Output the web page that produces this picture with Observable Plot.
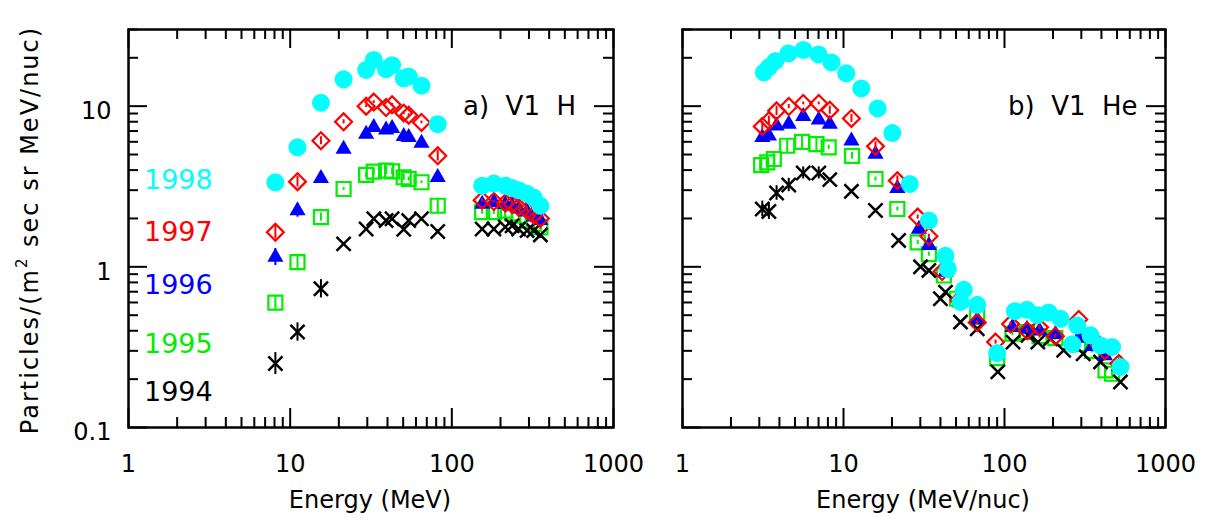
<!DOCTYPE html>
<html><head><meta charset="utf-8">
<script src="https://cdn.jsdelivr.net/npm/d3@7"></script>
<script src="https://cdn.jsdelivr.net/npm/@observablehq/plot@0.6"></script>
<style>
body{margin:0;background:#fff;font-family:"DejaVu Sans",sans-serif;}
#wrap{position:relative;width:1211px;height:527px;overflow:hidden;background:#fff;}
#wrap svg{position:absolute;top:0;}
.t{position:absolute;white-space:pre;line-height:1;color:#000;}
</style></head><body><div id="wrap"></div>
<script>
// ---------- data ----------
const years = ["1994", "1995", "1996", "1997", "1998"];
const colors = {"1994": "#000000", "1995": "#00ee00", "1996": "#0000ff", "1997": "#ff0000", "1998": "#00ffff"};

// Panel a) V1 H : energies (MeV)
const hEnergy = [8.1, 11.1, 15.5, 21.4, 29.5, 32.9, 39.2, 42.7, 50.4, 54.1, 64.9, 81.8,
                 154, 182, 214, 236, 259, 292, 321, 353];
const h1998 = [3.36, 5.54, 10.5, 14.7, 16.8, 19.4, 17.0, 18.0, 14.9, 15.3, 13.4, 7.73,
               3.2, 3.3, 3.2, 3.1, 3.0, 2.85, 2.7, 2.4];
const h1997 = [1.64, 3.39, 6.09, 7.99, 10.0, 10.6, 9.8, 10.2, 9.05, 8.79, 7.92, 4.91,
               2.6, 2.55, 2.5, 2.45, 2.35, 2.25, 2.1, 2.0];
const h1996 = [1.15, 2.24, 3.56, 5.41, 6.70, 7.37, 7.13, 7.27, 6.48, 6.39, 5.89, 3.61,
               2.46, 2.52, 2.45, 2.40, 2.30, 2.20, 2.05, 1.95];
const h1995 = [0.598, 1.07, 2.04, 3.05, 3.73, 3.91, 3.97, 3.93, 3.61, 3.52, 3.36, 2.40,
               2.19, 2.19, 2.24, 2.15, 2.08, 1.94, 1.85, 1.76];
const h1994 = [0.250, 0.393, 0.730, 1.39, 1.72, 1.99, 1.94, 1.99, 1.71, 1.94, 1.99, 1.66,
               1.72, 1.72, 1.77, 1.80, 1.72, 1.68, 1.68, 1.58];
// relative uncertainties
const hErr1998 = [0.05, 0.04, 0.03, 0.02, 0.02, 0.02, 0.02, 0.02, 0.02, 0.02, 0.02, 0.04, 0.02, 0.02, 0.02, 0.02, 0.02, 0.02, 0.02, 0.02];
const hErr1997 = [0.10, 0.08, 0.06, 0.03, 0.02, 0.02, 0.02, 0.02, 0.02, 0.02, 0.02, 0.08, 0.02, 0.02, 0.02, 0.02, 0.02, 0.02, 0.02, 0.02];
const hErr1996 = [0.13, 0.10, 0.06, 0.03, 0.02, 0.02, 0.02, 0.02, 0.02, 0.02, 0.02, 0.06, 0.02, 0.02, 0.02, 0.02, 0.02, 0.02, 0.02, 0.02];
const hErr1995 = [0.10, 0.10, 0.06, 0.02, 0.04, 0.05, 0.06, 0.05, 0.05, 0.03, 0.02, 0.10, 0.03, 0.03, 0.03, 0.03, 0.03, 0.03, 0.03, 0.03];
const hErr1994 = [0.17, 0.14, 0.14, 0.02, 0.02, 0.02, 0.02, 0.02, 0.02, 0.02, 0.02, 0.03, 0.02, 0.02, 0.02, 0.02, 0.02, 0.02, 0.02, 0.02];

// Panel b) V1 He : energies (MeV/nuc), per year
const heE1998 = [3.2, 3.45, 3.78, 4.55, 5.64, 7.0, 8.42, 10.4, 12.9, 16.3, 20.1, 25.8, 33.9, 43, 44.5, 53.3, 55.9, 67.7, 90, 116, 138, 160, 188, 223, 264, 283, 342, 395, 466, 525];
const he1998  = [16.2, 17.5, 19.1, 21.3, 22.4, 21.0, 18.7, 16.0, 12.9, 9.67, 6.80, 3.28, 1.94, 1.17, 0.97, 0.604, 0.72, 0.58, 0.29, 0.53, 0.54, 0.50, 0.52, 0.475, 0.33, 0.432, 0.375, 0.324, 0.317, 0.238];
const heE1997 = [3.13, 3.44, 3.84, 4.57, 5.62, 7.02, 8.22, 11.2, 15.8, 21.6, 28.9, 33.9, 41, 52, 67.7, 88, 109, 138, 165, 207, 289, 350, 420, 513];
const he1997  = [7.48, 8.11, 9.35, 9.95, 10.4, 10.4, 9.44, 8.39, 5.62, 3.44, 2.04, 1.55, 0.935, 0.62, 0.45, 0.34, 0.44, 0.40, 0.42, 0.37, 0.47, 0.36, 0.30, 0.25];
const heE1996 = [3.13, 3.44, 3.84, 4.57, 5.62, 7.02, 8.22, 11.2, 15.8, 21.6, 29.4, 33.9, 43, 53, 67.7, 90, 112, 138, 165, 207, 289, 350, 420, 513];
const he1996  = [6.39, 6.54, 7.55, 7.73, 8.63, 8.22, 7.73, 6.09, 5.03, 3.08, 1.72, 1.36, 0.927, 0.60, 0.47, 0.29, 0.42, 0.41, 0.40, 0.38, 0.36, 0.32, 0.28, 0.24];
const heE1995 = [3.08, 3.36, 3.69, 4.47, 5.53, 6.79, 8.09, 11.3, 15.8, 21.6, 28.9, 33.9, 42, 50.8, 67.7, 90, 112, 138, 165, 207, 289, 350, 424, 466];
const he1995  = [4.30, 4.47, 4.69, 5.67, 6.0, 5.81, 5.54, 4.91, 3.52, 2.29, 1.42, 1.20, 0.883, 0.633, 0.49, 0.27, 0.384, 0.393, 0.37, 0.36, 0.33, 0.30, 0.227, 0.216];
const heE1994 = [3.13, 3.44, 3.84, 4.57, 5.62, 7.02, 8.22, 11.2, 15.8, 22.0, 30.1, 33.9, 40, 43, 53.3, 67.7, 90.9, 113, 140, 161, 193, 233, 308, 395, 525];
const he1994  = [2.29, 2.21, 2.88, 3.23, 3.84, 3.84, 3.49, 2.95, 2.24, 1.46, 1.0, 0.95, 0.633, 0.696, 0.453, 0.412, 0.222, 0.340, 0.375, 0.340, 0.357, 0.302, 0.288, 0.256, 0.192];
const heErr1998 = [0.02];
const heErr1997 = [0.07, 0.07, 0.07, 0.03, 0.02, 0.02, 0.06, 0.06, 0.07, 0.07, 0.03];
const heErr1996 = [0.03];
const heErr1995 = [0.10, 0.10, 0.10, 0.10, 0.10, 0.10, 0.03, 0.05, 0.03];
const heErr1994 = [0.12, 0.12, 0.11, 0.10, 0.09, 0.09, 0.02];

const xMajorTicks = [1, 10, 100, 1000];
const yMajorTicks = [0.1, 1, 10];
const legendYears = ["1998", "1997", "1996", "1995", "1994"];

// ---------- build ----------
function table(E, V, err, year) {
  return E.map((e, i) => ({E: e, v: V[i], err: err[Math.min(i, err.length - 1)], year}));
}
const hData = {
  "1994": table(hEnergy, h1994, hErr1994, "1994"),
  "1995": table(hEnergy, h1995, hErr1995, "1995"),
  "1996": table(hEnergy, h1996, hErr1996, "1996"),
  "1997": table(hEnergy, h1997, hErr1997, "1997"),
  "1998": table(hEnergy, h1998, hErr1998, "1998")
};
const heData = {
  "1994": table(heE1994, he1994, heErr1994, "1994"),
  "1995": table(heE1995, he1995, heErr1995, "1995"),
  "1996": table(heE1996, he1996, heErr1996, "1996"),
  "1997": table(heE1997, he1997, heErr1997, "1997"),
  "1998": table(heE1998, he1998, heErr1998, "1998")
};

const sym = {
  "1994": {symbol: "times", stroke: colors["1994"], fill: "none", r: 6.5, strokeWidth: 2.5},
  "1995": {symbol: "square", stroke: colors["1995"], fill: "none", r: 7.9, strokeWidth: 2.2},
  "1996": {symbol: "triangle", fill: colors["1996"], stroke: "none", r: 6.0},
  "1997": {symbol: "diamond2", stroke: colors["1997"], fill: "none", r: 7.6, strokeWidth: 2.2},
  "1998": {symbol: "circle", fill: colors["1998"], stroke: "none", r: 9}
};
const drawOrder = ["1995", "1994", "1996", "1997", "1998"];

const xAll = d3.scaleLog().domain([1, 1000]).ticks();
const isMajor = t => Math.abs(Math.log10(t) - Math.round(Math.log10(t))) < 1e-9;
const xMinor = xAll.filter(t => !isMajor(t));
const yAll = d3.scaleLog().domain([0.1, 30]).ticks();
const yMinor = yAll.filter(t => !isMajor(t));

const TOP = 29, BOTTOM = 100, SVGH = 527;
const PH = SVGH - TOP - BOTTOM;
const MAJ = 19, MIN = 10;

function panel(data, {width, marginLeft, marginRight, yLabels}) {
  const PW = width - marginLeft - marginRight;
  const tickStyle = {stroke: "#000", strokeWidth: 2};
  const marks = [];
  // ticks on all four sides, pointing inward
  marks.push(Plot.tickX(xAll.filter(isMajor), {x: d => d, insetTop: PH - MAJ, ...tickStyle}));
  marks.push(Plot.tickX(xMinor, {x: d => d, insetTop: PH - MIN, ...tickStyle}));
  marks.push(Plot.tickX(xAll.filter(isMajor), {x: d => d, insetBottom: PH - MAJ, ...tickStyle}));
  marks.push(Plot.tickX(xMinor, {x: d => d, insetBottom: PH - MIN, ...tickStyle}));
  marks.push(Plot.tickY(yAll.filter(isMajor), {y: d => d, insetRight: PW - MAJ, ...tickStyle}));
  marks.push(Plot.tickY(yMinor, {y: d => d, insetRight: PW - MIN, ...tickStyle}));
  marks.push(Plot.tickY(yAll.filter(isMajor), {y: d => d, insetLeft: PW - MAJ, ...tickStyle}));
  marks.push(Plot.tickY(yMinor, {y: d => d, insetLeft: PW - MIN, ...tickStyle}));
  marks.push(Plot.frame({stroke: "#000", strokeWidth: 2.5}));
  marks.push(Plot.axisX({ticks: xMajorTicks, tickSize: 0, tickPadding: 27, tickFormat: d => String(d), fontSize: 24, label: null}));
  if (yLabels) marks.push(Plot.axisY({ticks: yMajorTicks, tickSize: 0, tickPadding: 17, tickFormat: d => String(d), fontSize: 24, dy: 5, label: null}));
  for (const yr of drawOrder) {
    const s = sym[yr];
    marks.push(Plot.ruleX(data[yr], {x: "E", y1: d => d.v / (1 + d.err), y2: d => d.v * (1 + d.err), stroke: colors[yr], strokeWidth: 2}));
    marks.push(Plot.dot(data[yr], {x: "E", y: "v", ...s}));
  }
  return Plot.plot({
    width, height: SVGH,
    marginLeft, marginRight, marginTop: TOP, marginBottom: BOTTOM,
    style: {fontFamily: "DejaVu Sans, sans-serif", fontSize: "24px", color: "#000", background: "transparent", overflow: "visible"},
    x: {type: "log", domain: [1, 1000]},
    y: {type: "log", domain: [0.1, 30], axis: yLabels ? undefined : null},
    marks
  });
}

const wrap = document.getElementById("wrap");
const left = panel(hData, {width: 640, marginLeft: 128, marginRight: 27, yLabels: true});
left.style.left = "0px";
const right = panel(heData, {width: 571, marginLeft: 42, marginRight: 46, yLabels: false});
right.style.left = "640px";
wrap.appendChild(left);
wrap.appendChild(right);

function addText(txt, css) {
  const d = document.createElement("div");
  d.className = "t";
  d.innerHTML = txt;
  Object.assign(d.style, css);
  wrap.appendChild(d);
  return d;
}
// legend
const legendTops = [166, 218, 271, 330, 378];
legendYears.forEach((y, i) => addText(y, {left: "144px", top: legendTops[i] + "px", fontSize: "27px", color: colors[y]}));
// panel labels
addText("a)  V1  H", {left: "463px", top: "93px", fontSize: "26px"});
addText("b)  V1  He", {left: "1008px", top: "93px", fontSize: "26px"});
// axis titles
addText("Energy (MeV)", {left: "370px", top: "500px", fontSize: "24px", transform: "translate(-50%,-50%)"});
addText("Energy (MeV/nuc)", {left: "923px", top: "500px", fontSize: "24px", transform: "translate(-50%,-50%)"});
addText('Particles/(m<span style="font-size:15px;position:relative;top:-11px">2</span> sec sr MeV/nuc)',
  {left: "30px", top: "230px", fontSize: "24px", transform: "translate(-50%,-50%) rotate(-90deg)", letterSpacing: "2px"});
</script>
</body></html>
